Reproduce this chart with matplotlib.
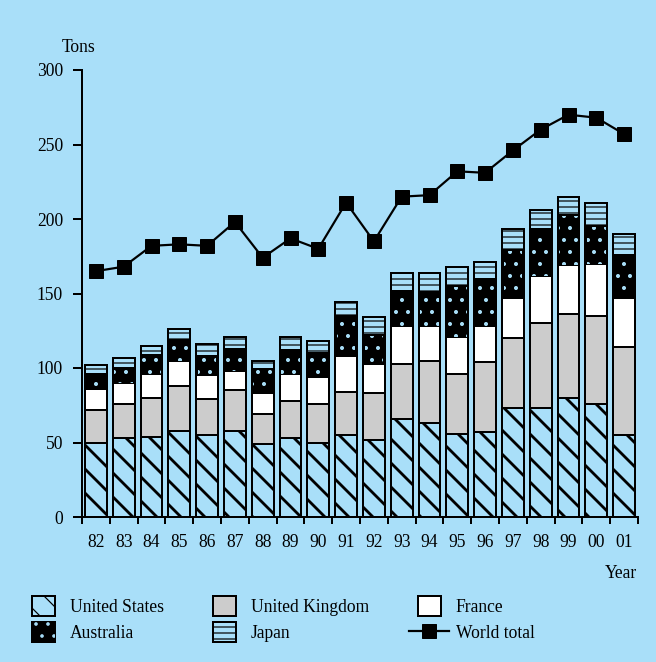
import matplotlib
matplotlib.use('Agg')
import matplotlib.pyplot as plt
import matplotlib.patches as mpatches
from matplotlib.lines import Line2D
from matplotlib.legend_handler import HandlerPatch
import numpy as np

years = ["82", "83", "84", "85", "86", "87", "88", "89", "90", "91",
         "92", "93", "94", "95", "96", "97", "98", "99", "00", "01"]
united_states = [50, 53, 54, 58, 55, 58, 49, 53, 50, 55, 52, 66, 63, 56, 57, 73, 73, 80, 76, 55]
united_kingdom = [22, 23, 26, 30, 24, 27, 20, 25, 26, 29, 31, 37, 42, 40, 47, 47, 57, 56, 59, 59]
france = [14, 14, 16, 17, 16, 13, 14, 18, 18, 24, 20, 25, 23, 25, 24, 27, 32, 33, 35, 33]
australia = [10, 10, 13, 14, 13, 15, 16, 16, 16, 27, 19, 24, 23, 34, 32, 32, 31, 34, 25, 29]
japan = [6, 7, 6, 7, 8, 8, 6, 9, 8, 9, 12, 12, 13, 13, 11, 14, 13, 12, 16, 14]
world_total = [165, 168, 182, 183, 182, 198, 174, 187, 180, 211,
               185, 215, 216, 232, 231, 246, 260, 270, 268, 257]

BG = "#a9dff9"
GRAY = "#cccccc"
# at 72 dpi one point is one pixel, so the hatch spacing matches the original
DPI = 72
plt.rcParams['font.family'] = ['Liberation Serif', 'DejaVu Serif']
plt.rcParams['font.size'] = 17.5

fig = plt.figure(figsize=(656 / DPI, 662 / DPI), dpi=DPI, facecolor=BG)
ax = fig.add_axes([82 / 656, 1 - 517 / 662, 556 / 656, 447 / 662])
ax.set_facecolor(BG)

x = np.arange(len(years))
w = 0.78
us = np.array(united_states)
uk = np.array(united_kingdom)
fr = np.array(france)
au = np.array(australia)
jp = np.array(japan)
EW = 2.0

plt.rcParams['hatch.linewidth'] = 2.8
ax.bar(x, us, w, color=BG, edgecolor="black", hatch="\\", linewidth=EW)
plt.rcParams['hatch.linewidth'] = 1.0
ax.bar(x, uk, w, bottom=us, color=GRAY, edgecolor="black", linewidth=EW)
ax.bar(x, fr, w, bottom=us + uk, color="white", edgecolor="black", linewidth=EW)
ax.bar(x, au, w, bottom=us + uk + fr, color="black", edgecolor="black", linewidth=EW)
plt.rcParams['hatch.linewidth'] = 1.6
ax.bar(x, au, w * 0.85, bottom=us + uk + fr, color="none", edgecolor=BG, hatch=".", linewidth=0)
plt.rcParams['hatch.linewidth'] = 1.2
ax.bar(x, jp, w, bottom=us + uk + fr + au, color=BG, edgecolor="black", hatch="--", linewidth=EW)

ax.plot(x, world_total, color="black", lw=2.2, marker="s", markersize=14, zorder=5)

ax.set_xlim(-0.5, len(years) - 0.5)
ax.set_ylim(0, 300)
ax.set_yticks(range(0, 301, 50))
ax.set_xticks(x)
ax.set_xticklabels(years)
ax.set_xticks(np.arange(-0.5, len(years)), minor=True)
ax.tick_params(axis='x', which='major', length=0, pad=17)
ax.tick_params(axis='x', which='minor', length=7, width=2, direction='out')
ax.tick_params(axis='y', length=9, width=2, direction='out', pad=10)
for s in ["top", "right"]:
    ax.spines[s].set_visible(False)
for s in ["left", "bottom"]:
    ax.spines[s].set_linewidth(2)

fig.text(79 / 656, 1 - 47 / 662, "Tons", ha="center", va="center")
fig.text(621 / 656, 1 - 573 / 662, "Year", ha="center", va="center")


def small_box(legend, orig_handle, xdescent, ydescent, width, height, fontsize):
    bw, bh = 23, 20
    return mpatches.Rectangle((-xdescent + (width - bw) / 2, -ydescent + (height - bh) / 2), bw, bh)


plt.rcParams['hatch.linewidth'] = 2.8
h_us = mpatches.Patch(facecolor=BG, edgecolor="black", hatch="\\", linewidth=EW)
plt.rcParams['hatch.linewidth'] = 1.0
h_uk = mpatches.Patch(facecolor=GRAY, edgecolor="black", linewidth=EW)
h_fr = mpatches.Patch(facecolor="white", edgecolor="black", linewidth=EW)
plt.rcParams['hatch.linewidth'] = 1.6
h_au = (mpatches.Patch(facecolor="black", edgecolor="black", linewidth=EW),
        mpatches.Patch(facecolor="none", edgecolor=BG, hatch=".", linewidth=0))
plt.rcParams['hatch.linewidth'] = 1.2
h_jp = mpatches.Patch(facecolor=BG, edgecolor="black", hatch="--", linewidth=EW)
h_wt = Line2D([], [], color="black", lw=2.2, marker="s", markersize=14)

handles = [h_us, h_au, h_uk, h_jp, h_fr, h_wt]
labels = ["United States", "Australia", "United Kingdom", "Japan", "France", "World total"]
fig.legend(handles, labels, ncol=3, loc="upper left",
           bbox_to_anchor=(8 / 656, 1 - 582 / 662), frameon=False,
           handler_map={mpatches.Patch: HandlerPatch(patch_func=small_box)},
           handlelength=2.3, handleheight=1.15, handletextpad=0.35,
           columnspacing=2.3, labelspacing=0.4)

fig.savefig("out.png", dpi=DPI, facecolor=BG)
